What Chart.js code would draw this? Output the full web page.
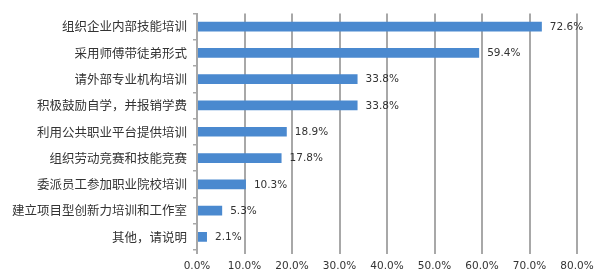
<!DOCTYPE html>
<html><head><meta charset="utf-8">
<script src="https://cdn.jsdelivr.net/npm/chart.js@4/dist/chart.umd.min.js"></script>
<style>html,body{margin:0;padding:0;background:#fff;}#wrap{width:600px;height:280px;position:relative;}</style>
</head><body><div id="wrap"><canvas id="c" width="600" height="280"></canvas></div>
<script>
const categories = ["组织企业内部技能培训","采用师傅带徒弟形式","请外部专业机构培训","积极鼓励自学，并报销学费","利用公共职业平台提供培训","组织劳动竞赛和技能竞赛","委派员工参加职业院校培训","建立项目型创新力培训和工作室","其他，请说明"];
const values = [72.6, 59.4, 33.8, 33.8, 18.9, 17.8, 10.3, 5.3, 2.1];
const xMin = 0, xMax = 80, xStep = 10;

const labelPlugin = {
  id: 'valueLabels',
  afterDatasetsDraw(chart) {
    const ctx = chart.ctx;
    const meta = chart.getDatasetMeta(0);
    ctx.save();
    ctx.font = '10.5px "DejaVu Sans"';
    ctx.fillStyle = '#333';
    ctx.textBaseline = 'middle';
    ctx.textAlign = 'left';
    meta.data.forEach((bar, i) => {
      ctx.fillText(values[i].toFixed(1) + '%', bar.x + 8, bar.y + 0.5);
    });
    ctx.restore();
  }
};

new Chart(document.getElementById('c'), {
  type: 'bar',
  data: {
    labels: categories,
    datasets: [{
      data: values,
      backgroundColor: '#4A89CF',
      borderWidth: 0,
      categoryPercentage: 1,
      barPercentage: 0.37
    }]
  },
  plugins: [labelPlugin],
  options: {
    indexAxis: 'y',
    responsive: false,
    animation: false,
    layout: { padding: { top: 5, right: 23, left: 0, bottom: 0 } },
    plugins: { legend: { display: false }, tooltip: { enabled: false } },
    scales: {
      x: {
        type: 'linear',
        min: xMin, max: xMax,
        afterFit(scale) { scale.height = 30; },
        ticks: {
          stepSize: xStep,
          callback: v => Number(v).toFixed(1) + '%',
          font: { family: '"DejaVu Sans"', size: 10.5 },
          color: '#333',
          padding: 6,
          maxRotation: 0,
          autoSkip: false
        },
        grid: { display: true, drawOnChartArea: true, drawTicks: true, tickLength: 4, color: '#A8A8A8', lineWidth: 2 },
        border: { display: false }
      },
      y: {
        afterFit(scale) { scale.width = 197; },
        ticks: {
          font: { family: '"Noto Sans CJK SC"', size: 12.5 },
          color: '#333',
          padding: 6
        },
        grid: { drawOnChartArea: false, drawTicks: true, tickLength: 4, color: '#A8A8A8', lineWidth: 1.5, offset: true },
        border: { display: true, color: '#A8A8A8', width: 2 }
      }
    }
  }
});
</script></body></html>
